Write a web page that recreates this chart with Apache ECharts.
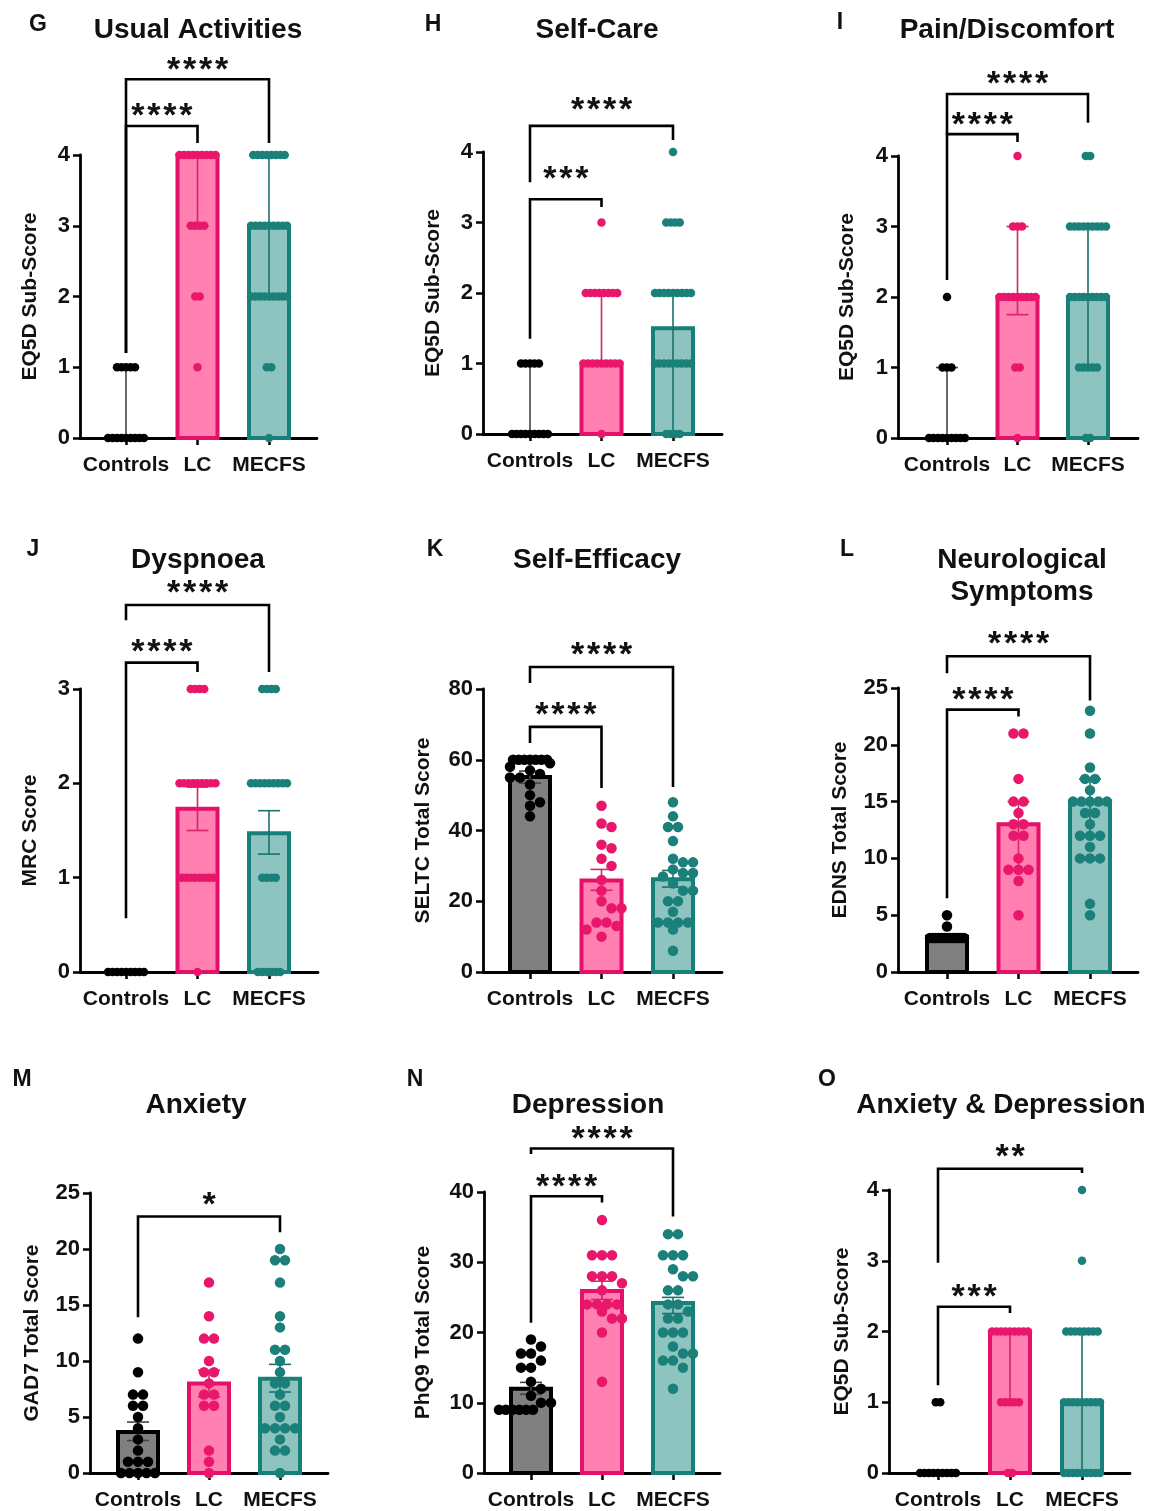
<!DOCTYPE html>
<html>
<head>
<meta charset="utf-8">
<script src="https://cdn.jsdelivr.net/npm/echarts@6/dist/echarts.min.js"></script>
<style>
  html, body { margin: 0; background: #fff; }
  #chart { width: 1163px; height: 1511px; }
</style>
</head>
<body>
<div id="chart"></div>
<script>
const groups = ['Controls', 'LC', 'MECFS'];

// G - Usual Activities (median, IQR)
const usualBars = [0, 4, 3];
const usualErrLo = [0, 3, 2];
const usualErrHi = [1, 4, 4];
const usualCtrl = [1, 1, 1, 1, 1, 0, 0, 0, 0, 0, 0, 0, 0, 0];
const usualLC = [4, 4, 4, 4, 4, 4, 4, 4, 4, 3, 3, 3, 3, 2, 2, 1];
const usualME = [4, 4, 4, 4, 4, 4, 4, 4, 3, 3, 3, 3, 3, 3, 3, 3, 3, 2, 2, 2, 2, 2, 2, 2, 2, 2, 1, 1, 0];
const usualStars = ['****', '****'];

// H - Self-Care
const careBars = [0, 1, 1.5];
const careErrLo = [0, 1, 0];
const careErrHi = [1, 2, 2];
const careCtrl = [1, 1, 1, 1, 1, 0, 0, 0, 0, 0, 0, 0, 0, 0];
const careLC = [3, 2, 2, 2, 2, 2, 2, 2, 2, 1, 1, 1, 1, 1, 1, 1, 1, 1, 0];
const careME = [4, 3, 3, 3, 3, 2, 2, 2, 2, 2, 2, 2, 2, 2, 1, 1, 1, 1, 1, 1, 1, 1, 1, 0, 0, 0, 0];
const careStars = ['****', '***'];

// I - Pain/Discomfort
const painBars = [0, 2, 2];
const painErrLo = [0, 1.75, 1];
const painErrHi = [1, 3, 3];
const painCtrl = [2, 1, 1, 1, 0, 0, 0, 0, 0, 0, 0, 0, 0];
const painLC = [4, 3, 3, 3, 2, 2, 2, 2, 2, 2, 2, 2, 2, 1, 1, 0];
const painME = [4, 4, 3, 3, 3, 3, 3, 3, 3, 3, 3, 2, 2, 2, 2, 2, 2, 2, 2, 2, 1, 1, 1, 1, 1, 0, 0];
const painStars = ['****', '****'];

// J - Dyspnoea (mean, SEM)
const dyspBars = [0, 1.73, 1.47];
const dyspErrLo = [0, 1.5, 1.25];
const dyspErrHi = [0, 1.96, 1.71];
const dyspCtrl = [0, 0, 0, 0, 0, 0, 0, 0, 0];
const dyspLC = [3, 3, 3, 3, 2, 2, 2, 2, 2, 2, 2, 2, 2, 1, 1, 1, 1, 1, 1, 1, 1, 0];
const dyspME = [3, 3, 3, 3, 2, 2, 2, 2, 2, 2, 2, 2, 2, 1, 1, 1, 1, 0, 0, 0, 0, 0, 0];
const dyspStars = ['****', '****'];

// K - Self-Efficacy
const effBars = [55.1, 25.9, 26.2];
const effErrLo = [53.4, 23.1, 24];
const effErrHi = [56.8, 29, 28.7];
const effCtrl = [60, 60, 60, 60, 60, 60, 60, 59, 58, 57, 56, 55, 55, 53, 50, 48, 47, 44];
const effLC = [47, 42, 41, 36, 35, 32, 30, 26, 23, 20, 18, 18, 14, 14, 13, 12, 10];
const effME = [48, 44, 41, 41, 37, 32, 31, 31, 29, 28, 28, 27, 25, 23, 23, 20, 20, 17, 14, 14, 14, 14, 12, 6];
const effStars = ['****', '****'];

// L - Neurological Symptoms
const neuroBars = [3.1, 13, 15];
const neuroErrLo = [3, 9, 12];
const neuroErrHi = [3.3, 15, 17];
const neuroCtrl = [5, 4, 3, 3, 3, 3, 3, 3, 3, 3, 3, 3, 3, 3, 3];
const neuroLC = [21, 21, 17, 15, 15, 14, 13, 13, 12, 12, 10, 9, 9, 9, 8, 5];
const neuroME = [23, 21, 18, 17, 17, 16, 15, 15, 15, 15, 15, 14, 14, 13, 12, 12, 12, 11, 10, 10, 10, 6, 5];
const neuroStars = ['****', '****'];

// M - Anxiety
const anxBars = [3.66, 7.98, 8.42];
const anxErrLo = [2.9, 6.8, 7.23];
const anxErrHi = [4.55, 9.17, 9.7];
const anxCtrl = [12, 9, 7, 7, 6, 6, 5, 4, 3, 2, 1, 1, 1, 0, 0, 0, 0, 0];
const anxLC = [17, 14, 12, 12, 10, 9, 9, 8, 7, 7, 6, 6, 2, 1, 0];
const anxME = [20, 19, 19, 17, 14, 13, 11, 11, 10, 9, 8, 8, 7, 6, 6, 5, 4, 4, 4, 4, 3, 2, 2, 0];
const anxStars = ['*'];

// N - Depression
const depBars = [12, 25.9, 24.2];
const depErrLo = [11.2, 24.7, 22.7];
const depErrHi = [12.9, 27.3, 25];
const depCtrl = [19, 18, 17, 17, 16, 15, 15, 13, 12, 11, 10, 10, 9, 9, 9, 9, 9, 9];
const depLC = [36, 31, 31, 31, 28, 28, 28, 27, 26, 24, 24, 24, 24, 23, 22, 22, 20, 13];
const depME = [34, 34, 31, 31, 31, 29, 28, 28, 26, 26, 24, 24, 23, 22, 22, 20, 20, 20, 18, 17, 17, 16, 16, 15, 12];
const depStars = ['****', '****'];

// O - Anxiety & Depression
const adBars = [0, 2, 1];
const adErrLo = [0, 1, 0];
const adErrHi = [0, 2, 2];
const adCtrl = [1, 1, 0, 0, 0, 0, 0, 0, 0, 0, 0];
const adLC = [2, 2, 2, 2, 2, 2, 2, 2, 2, 1, 1, 1, 1, 1, 0, 0];
const adME = [4, 3, 2, 2, 2, 2, 2, 2, 2, 2, 1, 1, 1, 1, 1, 1, 1, 1, 1, 0, 0, 0, 0, 0, 0, 0, 0, 0];
const adStars = ['**', '***'];

// layout: pixel frame of each panel, bracket levels [from, to, y, leftEnd, rightEnd, textY]
const panels = [
  { key: 'G', title: 'Usual Activities', yName: 'EQ5D Sub-Score', bars: usualBars, lo: usualErrLo, hi: usualErrHi,
    dots: [usualCtrl, usualLC, usualME], stars: usualStars, ordinal: true, ymax: 4, step: 1,
    axisX: 80, x0: 126, sp: 71.5, xEnd: 317, yTop: 155, yBot: 438, titleX: 198, titleY: 30, letterX: 38, letterY: 25, nameGap: 39.5,
    brackets: [[0, 2, 5.07, 1.2, 4.17, 5.31], [0, 1, 4.41, 1.2, 4.17, 4.66]] },
  { key: 'H', title: 'Self-Care', yName: 'EQ5D Sub-Score', bars: careBars, lo: careErrLo, hi: careErrHi,
    dots: [careCtrl, careLC, careME], stars: careStars, ordinal: true, ymax: 4, step: 1,
    axisX: 483, x0: 530, sp: 71.5, xEnd: 722, yTop: 152, yBot: 434, titleX: 597, titleY: 30, letterX: 433, letterY: 25, nameGap: 39.5,
    brackets: [[0, 2, 4.37, 3.57, 4.17, 4.70], [0, 1, 3.33, 1.35, 3.22, 3.72]] },
  { key: 'I', title: 'Pain/Discomfort', yName: 'EQ5D Sub-Score', bars: painBars, lo: painErrLo, hi: painErrHi,
    dots: [painCtrl, painLC, painME], stars: painStars, ordinal: true, ymax: 4, step: 1,
    axisX: 898, x0: 947, sp: 70.5, xEnd: 1138, yTop: 156, yBot: 438, titleX: 1007, titleY: 30, letterX: 840, letterY: 23, nameGap: 40.5,
    brackets: [[0, 2, 4.88, 4.31, 4.47, 5.12], [0, 1, 4.31, 2.24, 4.2, 4.55]] },
  { key: 'J', title: 'Dyspnoea', yName: 'MRC Score', bars: dyspBars, lo: dyspErrLo, hi: dyspErrHi,
    dots: [dyspCtrl, dyspLC, dyspME], stars: dyspStars, ordinal: true, ymax: 3, step: 1,
    axisX: 80, x0: 126, sp: 71.5, xEnd: 318, yTop: 689, yBot: 972, titleX: 198, titleY: 560, letterX: 33, letterY: 550, nameGap: 39.5,
    brackets: [[0, 2, 3.89, 3.73, 3.18, 4.10], [0, 1, 3.28, 0.57, 3.18, 3.47]] },
  { key: 'K', title: 'Self-Efficacy', yName: 'SELTC Total Score', bars: effBars, lo: effErrLo, hi: effErrHi,
    dots: [effCtrl, effLC, effME], stars: effStars, ordinal: false, ymax: 80, step: 20,
    axisX: 483, x0: 530, sp: 71.5, xEnd: 722, yTop: 689, yBot: 972, titleX: 597, titleY: 560, letterX: 435, letterY: 550, nameGap: 49.5,
    brackets: [[0, 2, 86.2, 81.7, 52.3, 91.6], [0, 1, 69.3, 64.7, 52, 74.6]] },
  { key: 'L', title: 'Neurological\nSymptoms', yName: 'EDNS Total Score', bars: neuroBars, lo: neuroErrLo, hi: neuroErrHi,
    dots: [neuroCtrl, neuroLC, neuroME], stars: neuroStars, ordinal: false, ymax: 25, step: 5,
    axisX: 898, x0: 947, sp: 71.5, xEnd: 1138, yTop: 688, yBot: 972, titleX: 1022, titleY: 576, letterX: 847, letterY: 550, nameGap: 47.5,
    brackets: [[0, 2, 27.8, 26.3, 23.9, 29.5], [0, 1, 23.1, 6.5, 22.5, 24.6]] },
  { key: 'M', title: 'Anxiety', yName: 'GAD7 Total Score', bars: anxBars, lo: anxErrLo, hi: anxErrHi,
    dots: [anxCtrl, anxLC, anxME], stars: anxStars, ordinal: false, ymax: 25, step: 5,
    axisX: 90, x0: 138, sp: 71, xEnd: 328, yTop: 1193, yBot: 1473, titleX: 196, titleY: 1105, letterX: 22, letterY: 1080, nameGap: 47.5,
    brackets: [[0, 2, 22.9, 13.9, 21.5, 24.6]] },
  { key: 'N', title: 'Depression', yName: 'PhQ9 Total Score', bars: depBars, lo: depErrLo, hi: depErrHi,
    dots: [depCtrl, depLC, depME], stars: depStars, ordinal: false, ymax: 40, step: 10,
    axisX: 484, x0: 531, sp: 71, xEnd: 720, yTop: 1192, yBot: 1473, titleX: 588, titleY: 1105, letterX: 415, letterY: 1080, nameGap: 50.5,
    brackets: [[0, 2, 46.2, 45.4, 36.5, 48.6], [0, 1, 39.4, 21.4, 38.5, 41.8]] },
  { key: 'O', title: 'Anxiety & Depression', yName: 'EQ5D Sub-Score', bars: adBars, lo: adErrLo, hi: adErrHi,
    dots: [adCtrl, adLC, adME], stars: adStars, ordinal: true, ymax: 4, step: 1,
    axisX: 889, x0: 938, sp: 72, xEnd: 1130, yTop: 1190, yBot: 1473, titleX: 1001, titleY: 1105, letterX: 827, letterY: 1080, nameGap: 36.5,
    brackets: [[0, 2, 4.3, 2.97, 4.24, 4.57], [0, 1, 2.35, 1.24, 2.26, 2.59]] }
];

const FONT = '"Liberation Sans", Arial, sans-serif';
const fills = ['#808080', '#ff80b1', '#8dc4c0'];
const edges = ['#000000', '#e5106a', '#17807a'];
const dotColors = ['#000000', '#e8176b', '#1b8079'];
const errColors = ['#444444', '#d6246a', '#1a726d'];
const BAR_HALF = 20;
const CAP = 11;

// simple beeswarm: rows of equal values are centred, nearby rows shifted to avoid overlap
function swarm(values, gi, p) {
  const pxY = (p.yBot - p.yTop) / p.ymax;
  const s0 = p.ordinal ? 4.5 : 10;
  const minD = p.ordinal ? 4.4 : 9.6;
  const rowW = p.ordinal ? 22 : 17;
  const candW = 22;
  const counts = new Map();
  values.forEach(v => counts.set(v, (counts.get(v) || 0) + 1));
  const rows = [...counts.keys()].sort((a, b) => b - a);
  const placed = [];
  const out = [];
  rows.forEach(v => {
    const k = counts.get(v);
    const s = k > 1 ? Math.min(s0, 2 * rowW / (k - 1)) : s0;
    const y = v * pxY;
    const cands = [0];
    for (let c = s0 / 2; c <= candW; c += s0 / 2) cands.push(c, -c);
    let best = null, bestScore = -1;
    for (const c of cands) {
      const xs = [];
      for (let j = 0; j < k; j++) xs.push(c + (j - (k - 1) / 2) * s);
      let score = Infinity;
      xs.forEach(x => placed.forEach(q => { score = Math.min(score, Math.hypot(x - q[0], y - q[1])); }));
      if (score >= minD) { best = xs; break; }
      if (score > bestScore) { bestScore = score; best = xs; }
    }
    best.forEach(x => { placed.push([x, y]); out.push([gi + x / p.sp, v]); });
  });
  return out;
}

const grid = [], xAxis = [], yAxis = [], series = [], graphic = [];

panels.forEach((p, k) => {
  grid.push({ left: p.axisX, top: p.yTop, width: p.xEnd - p.axisX, height: p.yBot - p.yTop });
  xAxis.push({
    gridIndex: k, type: 'value',
    min: (p.axisX - p.x0) / p.sp, max: (p.xEnd - p.x0) / p.sp,
    axisLine: { onZero: false, lineStyle: { color: '#000', width: 2.8 } },
    axisTick: { customValues: [0, 1, 2], length: 7, lineStyle: { color: '#000', width: 2.5 } },
    axisLabel: { customValues: [0, 1, 2], formatter: v => groups[Math.round(v)], margin: 17,
      color: '#111', fontSize: 21, fontWeight: 'bold', fontFamily: FONT },
    splitLine: { show: false }
  });
  yAxis.push({
    gridIndex: k, type: 'value', min: 0, max: p.ymax, interval: p.step,
    name: p.yName, nameLocation: 'middle', nameRotate: 90, nameGap: p.nameGap,
    nameTextStyle: { color: '#111', fontSize: 21, fontWeight: 'bold', fontFamily: FONT },
    axisLine: { show: true, onZero: false, lineStyle: { color: '#000', width: 2.8 } },
    axisTick: { show: true, length: 7, lineStyle: { color: '#000', width: 2.5 } },
    axisLabel: { margin: 10, color: '#111', fontSize: 22, fontWeight: 'bold', fontFamily: FONT },
    splitLine: { show: false }
  });

  // bars
  series.push({
    type: 'custom', xAxisIndex: k, yAxisIndex: k, clip: false, silent: true,
    data: p.bars.map((v, i) => [i, v]),
    renderItem: (params, api) => {
      const i = api.value(0);
      const top = api.coord([i, api.value(1)]);
      const base = api.coord([i, 0]);
      return {
        type: 'rect',
        shape: { x: top[0] - BAR_HALF, y: top[1], width: BAR_HALF * 2, height: base[1] - top[1] },
        style: { fill: fills[i], stroke: edges[i], lineWidth: 4 }
      };
    }
  });

  const errSeries = {
    type: 'custom', xAxisIndex: k, yAxisIndex: k, clip: false, silent: true,
    data: p.lo.map((v, i) => [i, v, p.hi[i]]),
    renderItem: (params, api) => {
      const i = api.value(0);
      if (api.value(1) === api.value(2)) return { type: 'group', children: [] };
      const a = api.coord([i, api.value(1)]);
      const b = api.coord([i, api.value(2)]);
      const st = { stroke: errColors[i], lineWidth: 1.6 };
      return {
        type: 'group', children: [
          { type: 'line', shape: { x1: a[0], y1: a[1], x2: b[0], y2: b[1] }, style: st },
          { type: 'line', shape: { x1: a[0] - CAP, y1: a[1], x2: a[0] + CAP, y2: a[1] }, style: st },
          { type: 'line', shape: { x1: b[0] - CAP, y1: b[1], x2: b[0] + CAP, y2: b[1] }, style: st }
        ]
      };
    }
  };
  if (p.ordinal) series.push(errSeries);

  p.dots.forEach((vals, gi) => {
    series.push({
      type: 'scatter', xAxisIndex: k, yAxisIndex: k, silent: true,
      symbol: 'circle', symbolSize: p.ordinal ? 8.5 : 10.5,
      itemStyle: { color: dotColors[gi], opacity: 1 },
      data: swarm(vals, gi, p)
    });
  });
  if (!p.ordinal) series.push(errSeries);

  // significance brackets
  series.push({
    type: 'custom', xAxisIndex: k, yAxisIndex: k, clip: false, silent: true,
    data: p.brackets,
    renderItem: (params, api) => {
      const a = api.value(0), b = api.value(1);
      const pa = api.coord([a, api.value(3)]);
      const ta = api.coord([a, api.value(2)]);
      const tb = api.coord([b, api.value(2)]);
      const pb = api.coord([b, api.value(4)]);
      const t = api.coord([(a + b) / 2, api.value(5)]);
      const label = p.stars[params.dataIndex];
      const children = [{
        type: 'polyline',
        shape: { points: [pa, ta, tb, pb] },
        style: { stroke: '#000', lineWidth: 2.6, fill: null }
      }];
      for (let j = 0; j < label.length; j++) {
        children.push({
          type: 'text',
          x: t[0] + (j - (label.length - 1) / 2) * 16, y: t[1] + 8,
          style: { text: '*', font: 'bold 34px ' + FONT, fill: '#111', align: 'center', verticalAlign: 'middle' }
        });
      }
      return { type: 'group', children };
    }
  });

  graphic.push({
    type: 'text', x: p.titleX, y: p.titleY, silent: true,
    style: { text: p.title, font: 'bold 28px ' + FONT, fill: '#111', align: 'center', verticalAlign: 'middle', lineHeight: 32 }
  });
  graphic.push({
    type: 'text', x: p.letterX, y: p.letterY, silent: true,
    style: { text: p.key, font: 'bold 23px ' + FONT, fill: '#111', align: 'center', verticalAlign: 'middle' }
  });
});

const chart = echarts.init(document.getElementById('chart'));
chart.setOption({
  backgroundColor: '#fff',
  animation: false,
  grid, xAxis, yAxis, series, graphic
});
</script>
</body>
</html>
